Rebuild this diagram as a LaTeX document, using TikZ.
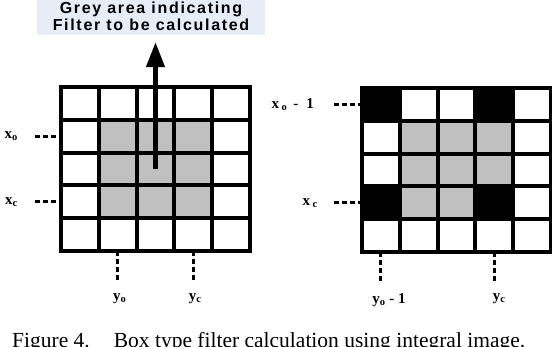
\documentclass[tikz,border=0pt]{standalone}
\usepackage{fontspec}
\setmainfont{Liberation Serif}
\newfontfamily\notefont[LetterSpace=10.5]{Liberation Sans}
\usetikzlibrary{arrows.meta,positioning}
\definecolor{cellgrey}{RGB}{192,192,192}
\definecolor{notebg}{RGB}{231,237,246}
\tikzset{gridline/.style={draw=black,line width=4pt,line cap=rect},
         tickline/.style={draw=black,line width=3pt,dash pattern=on 5pt off 3pt},
         notearrow/.style={draw=black,line width=4.5pt,-{Triangle[length=25pt,width=18pt]}},
         marklabel/.style={font=\fontsize{15}{18}\selectfont\bfseries,inner sep=0pt},
         notebox/.style={fill=notebg,minimum width=228pt,minimum height=38pt,align=center,
                         font=\notefont\bfseries\fontsize{16}{17}\selectfont}}

\begin{document}
\begin{tikzpicture}[x=1pt,y=-1pt]
  \useasboundingbox (0,0) rectangle (552,346);
  \node[notebox] (note) at (151,16) {Grey area indicating\\Filter to be calculated};
  % left grid
  \begin{scope}[shift={(61,87)},x=37.8pt,y=-32.8pt]
    \fill[cellgrey] (1,1) rectangle (4,4);
    \foreach \i in {0,...,5}{
      \draw[gridline] (\i,0) -- (\i,5);
      \draw[gridline] (0,\i) -- (5,\i);}
    \coordinate (L-mid) at (2.5,2.5);
    \coordinate (L-xo) at (0,1.5);
    \coordinate (L-xc) at (0,3.5);
    \coordinate (L-yo) at (1.5,5);
    \coordinate (L-yc) at (3.5,5);
  \end{scope}
  \draw[notearrow,shorten >=7pt] (L-mid) -- (L-mid |- note.south);
  \node[marklabel,left=43pt of L-xo] (lxo) {x\textsubscript{o}};
  \node[marklabel,left=43pt of L-xc] (lxc) {x\textsubscript{c}};
  \node[marklabel,below=42pt of L-yo,xshift=2pt] (lyo) {y\textsubscript{o}};
  \node[marklabel,below=42pt of L-yc,xshift=2pt] (lyc) {y\textsubscript{c}};
  \draw[tickline,shorten <=17pt] (lxo.east) -- (L-xo);
  \draw[tickline,shorten <=17pt] (lxc.east) -- (L-xc);
  \draw[tickline,shorten >=11pt] (L-yo) -- (L-yo |- lyo.north);
  \draw[tickline,shorten >=11pt] (L-yc) -- (L-yc |- lyc.north);
  % right grid
  \begin{scope}[shift={(362,88)},x=37.8pt,y=-32.8pt]
    \fill[cellgrey] (1,1) rectangle (4,3) (1,3) rectangle (3,4);
    \fill[black] (0,0) rectangle (1,1) (3,0) rectangle (4,1)
                 (0,3) rectangle (1,4) (3,3) rectangle (4,4);
    \foreach \i in {0,...,5}{
      \draw[gridline] (\i,0) -- (\i,5);
      \draw[gridline] (0,\i) -- (5,\i);}
    \coordinate (R-xo) at (0,0.5);
    \coordinate (R-xc) at (0,3.5);
    \coordinate (R-yo) at (0.5,5);
    \coordinate (R-yc) at (3.5,5);
  \end{scope}
  \node[marklabel,left=48pt of R-xo] (rxo) {x\,\textsubscript{o}\hspace{6pt}-\hspace{8pt}1};
  \node[marklabel,left=44pt of R-xc] (rxc) {x\,\textsubscript{c}};
  \node[marklabel,below=41pt of R-yo,xshift=8pt] (ryo) {y\textsubscript{o} - 1};
  \node[marklabel,below=41pt of R-yc,xshift=5pt] (ryc) {y\textsubscript{c}};
  \draw[tickline,shorten <=20pt] (rxo.east) -- (R-xo);
  \draw[tickline,shorten <=16pt] (rxc.east) -- (R-xc);
  \draw[tickline,shorten >=11pt] (R-yo) -- (R-yo |- ryo.north);
  \draw[tickline,shorten >=11pt] (R-yc) -- (R-yc |- ryc.north);
  % caption
  \node[anchor=base west,inner sep=0pt,font=\fontsize{21.5}{24}\selectfont] (caption) at (12,347)
    {Figure 4.\hspace{24pt}Box type filter calculation using integral image.};
\end{tikzpicture}
\end{document}
